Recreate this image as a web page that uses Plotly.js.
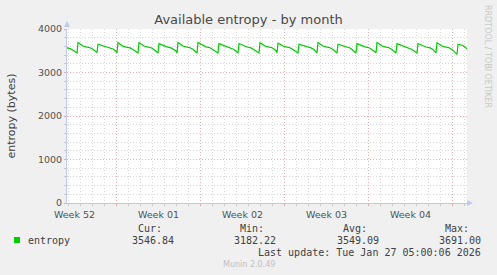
<!DOCTYPE html>
<html><head><meta charset="utf-8">
<script src="https://cdn.plot.ly/plotly-3.0.1.min.js"></script>
<style>html,body{margin:0;padding:0;background:#f0f0f0;}#chart{width:497px;height:275px;}</style>
</head><body><div id="chart"></div>
<script>
// hours after 2025-12-24 21:00 UTC
const hours = [0,6,12,16,20,
22,28,32,38,46,52,56,60,
62,68,72,78,86,92,96,100,
102,108,112,118,126,132,136,142,
144,150,154,160,168,174,178,182,
184,190,194,200,208,214,218,220,
222,228,232,238,246,252,256,260,
262,268,272,278,286,292,296,302,
304,310,314,320,328,334,338,342,
344,350,354,360,368,374,378,384,
386,392,396,402,410,414,418,420,
422,428,432,438,446,452,456,462,
464,470,474,480,488,494,496,500,
502,508,512,518,526,532,536,540,
542,548,552,558,566,570,574,578,
580,586,590,596,604,610,614,618,
620,626,630,636,644,650,654,658,
660,666,670,676,684,690,694,700,
702,708,712,718,726,732,734,738,
740,746,750,756,764,770,774,780,
782,788,792,796,800];
const entropy = [3565,3550,3510,3470,3450,
3690,3645,3610,3590,3570,3535,3500,3460,
3650,3630,3610,3595,3575,3540,3505,3455,
3685,3640,3605,3585,3565,3530,3495,3450,
3690,3645,3610,3590,3570,3530,3490,3450,
3665,3635,3610,3590,3565,3530,3495,3450,
3690,3645,3610,3590,3570,3535,3495,3445,
3690,3650,3615,3590,3570,3530,3490,3450,
3665,3640,3610,3590,3565,3530,3490,3445,
3665,3635,3610,3585,3565,3530,3495,3450,
3685,3645,3610,3590,3570,3540,3500,3455,
3675,3640,3610,3590,3570,3530,3495,3450,
3650,3630,3610,3590,3565,3530,3495,3450,
3690,3645,3610,3590,3570,3530,3495,3450,
3650,3630,3605,3585,3565,3530,3495,3450,
3665,3635,3610,3590,3570,3535,3495,3450,
3690,3645,3610,3590,3570,3530,3495,3450,
3665,3640,3610,3590,3565,3530,3495,3450,
3665,3635,3610,3585,3565,3530,3495,3450,
3685,3645,3610,3590,3570,3530,3480,3415,
3650,3640,3620,3580,3547];
const weekTickVals = ['2025-12-25 12:00','2026-01-01 12:00','2026-01-08 12:00','2026-01-15 12:00','2026-01-22 12:00'];
const weekTickText = ['Week 52','Week 01','Week 02','Week 03','Week 04'];
const weekStarts = ['2025-12-29','2026-01-05','2026-01-12','2026-01-19','2026-01-26'];
const yTicks = [0,1000,2000,3000,4000];
const legendName = 'entropy';
const statLabels = ['Cur:','Min:','Avg:','Max:'];
const statValues = ['3546.84','3182.22','3549.09','3691.00'];
const lastUpdate = 'Last update: Tue Jan 27 05:00:06 2026';

const base = Date.UTC(2025,11,24,21,0,0);
const xs = hours.map(h => base + h*3600000);

const L=67, R=467, T=29, B=203;
const px = v => (v-L)/(R-L);
const py = v => (B-v)/(B-T);

const mono = {family:'DejaVu Sans Mono', size:10, color:'#404040'};
const ann = [];
ann.push({xref:'paper',yref:'paper',x:px(26),y:py(240),xanchor:'left',yanchor:'middle',text:legendName,showarrow:false,font:mono});
const valEnds = [176,278,381,483];
for (let i=0;i<4;i++){
  ann.push({xref:'paper',yref:'paper',x:px(valEnds[i]-12),y:py(228),xanchor:'right',yanchor:'middle',text:statLabels[i],showarrow:false,font:mono});
  ann.push({xref:'paper',yref:'paper',x:px(valEnds[i]),y:py(240),xanchor:'right',yanchor:'middle',text:statValues[i],showarrow:false,font:mono});
}
ann.push({xref:'paper',yref:'paper',x:px(483),y:py(252),xanchor:'right',yanchor:'middle',text:lastUpdate,showarrow:false,font:mono});
ann.push({xref:'paper',yref:'paper',x:px(248.5),y:py(264),xanchor:'center',yanchor:'middle',text:'Munin 2.0.49',showarrow:false,font:{family:'DejaVu Sans',size:8,color:'#c0c0c0'}});
ann.push({xref:'paper',yref:'paper',x:px(488),y:py(56),xanchor:'center',yanchor:'middle',text:'RRDTOOL / TOBI OETIKER',textangle:90,showarrow:false,font:{family:'DejaVu Sans',size:8,color:'#c8c8c8'}});

const axisCol = '#c0c8f0';
const shapes = [
  {type:'rect',xref:'paper',yref:'paper',x0:px(14),x1:px(20),y0:py(243),y1:py(237),fillcolor:'#00cc00',line:{width:0}},
  {type:'path',xref:'paper',yref:'paper',path:`M ${px(64)} ${py(27)} L ${px(70)} ${py(27)} L ${px(67)} ${py(21)} Z`,fillcolor:axisCol,line:{width:0}},
  {type:'path',xref:'paper',yref:'paper',path:`M ${px(467)} ${py(200)} L ${px(467)} ${py(206)} L ${px(473)} ${py(203)} Z`,fillcolor:axisCol,line:{width:0}}
];

const majorGrid = 'rgba(235,160,160,0.75)';
const minorGrid = 'rgba(200,200,200,0.7)';
const dash = '1px,2px';

const data = [
  {x:xs,y:entropy,type:'scatter',mode:'lines',line:{color:'#00cc00',width:1.2},xaxis:'x',yaxis:'y',hoverinfo:'skip',showlegend:false},
  {x:xs,y:entropy,type:'scatter',mode:'lines',line:{color:'rgba(0,0,0,0)',width:0},xaxis:'x2',yaxis:'y',hoverinfo:'skip',showlegend:false}
];
const xr = ['2025-12-24 21:00','2026-01-27 05:00'];
const layout = {
  width:497,height:275,
  paper_bgcolor:'#f0f0f0',plot_bgcolor:'#ffffff',
  margin:{l:L,r:497-R,t:T,b:275-B,pad:0},
  showlegend:false,
  title:{text:'Available entropy - by month',font:{family:'DejaVu Sans',size:13,color:'#484848'},x:0.5,xanchor:'center',y:1-19/275,yanchor:'middle',yref:'container'},
  xaxis:{type:'date',range:xr,tickmode:'array',tickvals:weekStarts,showticklabels:false,
    showgrid:true,gridcolor:majorGrid,griddash:dash,gridwidth:1,
    showline:true,linecolor:axisCol,linewidth:1,zeroline:false,ticks:'outside',ticklen:2,tickcolor:majorGrid,
    minor:{tickmode:'linear',tick0:'2025-12-25',dtick:86400000,showgrid:true,gridcolor:minorGrid,griddash:dash,gridwidth:1,ticks:'outside',ticklen:2,tickcolor:'#c8c8c8'}},
  xaxis2:{type:'date',range:xr,overlaying:'x',anchor:'y',side:'bottom',tickmode:'array',tickvals:weekTickVals,ticktext:weekTickText,
    showgrid:false,showline:false,zeroline:false,ticks:'',ticklabelstandoff:4,tickfont:{family:'DejaVu Sans',size:9.5,color:'#505050'}},
  yaxis:{range:[0,4000],tickmode:'array',tickvals:yTicks,tickfont:{family:'DejaVu Sans',size:9.5,color:'#505050'},
    showgrid:true,gridcolor:majorGrid,griddash:dash,gridwidth:1,
    showline:true,linecolor:axisCol,linewidth:1,zeroline:false,ticks:'outside',ticklen:2,tickcolor:majorGrid,
    minor:{tickmode:'linear',tick0:0,dtick:200,showgrid:true,gridcolor:minorGrid,griddash:dash,gridwidth:1,ticks:'outside',ticklen:2,tickcolor:'#c8c8c8'},
    title:{text:'entropy (bytes)',font:{family:'DejaVu Sans',size:11,color:'#404040'},standoff:20}},
  annotations:ann,
  shapes:shapes
};
Plotly.newPlot('chart',data,layout,{staticPlot:true,displayModeBar:false});
</script></body></html>
